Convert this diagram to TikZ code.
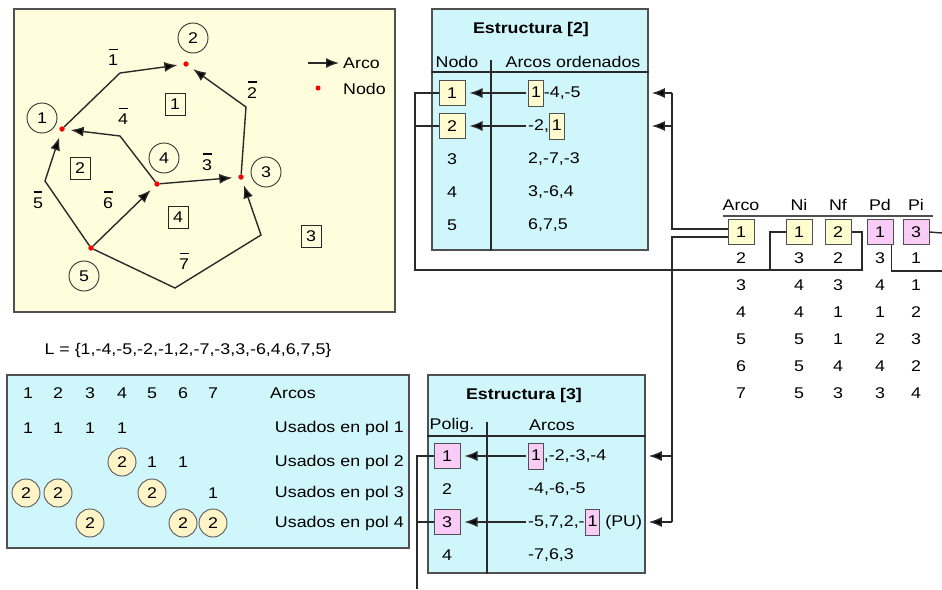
\documentclass[tikz,border=0pt]{standalone}
\usepackage{fontspec}
\setmainfont{Liberation Sans}[FakeStretch=1.15]
\usetikzlibrary{arrows.meta, positioning, calc}

\definecolor{panelyellow}{HTML}{FFFDDC}
\definecolor{panelcyan}{HTML}{CFF6FA}
\definecolor{cellyellow}{HTML}{FFFDCF}
\definecolor{cellpink}{HTML}{F8CCF6}
\definecolor{circfill}{HTML}{FFF3C8}
\definecolor{framegray}{HTML}{505050}
\definecolor{linegray}{HTML}{2A2A2A}

\newcommand{\txtsize}{\fontsize{15.5}{18}\selectfont}
\newcommand{\arcbar}[1]{\shortstack{\rule{9pt}{1.2pt}\\[2pt]#1}}
\newcommand{\yellowcell}[1]{{\fboxsep=2pt\fboxrule=0.9pt\fcolorbox{framegray}{cellyellow}{\rule[-6pt]{0pt}{21pt}#1}}}
\newcommand{\pinkcell}[1]{{\fboxsep=2pt\fboxrule=0.9pt\fcolorbox{framegray}{cellpink}{\rule[-6pt]{0pt}{21pt}#1}}}

\tikzset{
  panel/.style={draw=framegray, line width=1.6pt, inner sep=0pt},
  ycell/.style={draw=framegray, fill=cellyellow, line width=1pt, minimum width=26pt, minimum height=25pt, inner sep=0pt},
  pcell/.style={ycell, fill=cellpink},
  vertex/.style={circle, fill=red, inner sep=0pt, minimum size=5pt},
  nlabel/.style={circle, draw=black!80, line width=0.9pt, minimum size=30pt, inner sep=0pt},
  plabel/.style={draw=black!85, line width=0.9pt, minimum width=20pt, minimum height=22pt, inner sep=0pt},
  usedc/.style={circle, draw=black!65, fill=circfill, line width=0.9pt, minimum size=28pt, inner sep=0pt},
  title/.style={font=\txtsize\bfseries},
  arc/.style={draw=linegray, line width=1.4pt, -{Latex[length=13pt,width=10pt,fill=black]}},
  link/.style={draw=linegray, line width=1.4pt},
}

\begin{document}
\begin{tikzpicture}[x=1pt, y=-1pt, font=\txtsize, inner sep=2pt]
\useasboundingbox (0,0) rectangle (942,589);

% --- graph with nodes, arcs and polygons
\node[panel, fill=panelyellow, minimum width=381pt, minimum height=303pt] (graf) at (204.5,160.5) {};

\foreach \n/\x/\y in {1/62/129, 2/186/64, 3/241/177, 4/157/184, 5/91/248}
  \node[vertex] (v\n) at (\x,\y) {};
\coordinate (k1) at (120,73);
\coordinate (k2) at (246,107);
\coordinate (k4) at (120,136);
\coordinate (k5) at (45,181);
\coordinate (k7a) at (175,288);
\coordinate (k7b) at (261,235);

\begin{scope}[shorten >=6pt]
  \draw[arc] (v1) -- (k1) -- (v2);
  \draw[arc] (v3) -- (k2) -- (v2);
  \draw[arc] (v4) -- (v3);
  \draw[arc] (v4) -- (k4) -- (v1);
  \draw[arc] (v5) -- (k5) -- (v1);
  \draw[arc] (v5) -- (v4);
  \draw[arc] (v5) -- (k7a) -- (k7b) -- (v3);
\end{scope}
\foreach \n in {1,...,5}
  \node[vertex] at (v\n) {};

% arc names
\foreach \n/\x/\y in {1/113/57, 2/252/90, 3/207/162, 4/123/116, 5/38/200, 6/108/200, 7/184/261}
  \node (e\n) at (\x,\y) {\arcbar{\n}};

% node numbers
\foreach \n/\x/\y in {1/42/118, 2/193/38, 3/266/172, 4/164/158, 5/84/276}
  \node[nlabel] (c\n) at (\x,\y) {\n};

% polygon numbers
\foreach \n/\x/\y in {1/175/104, 2/80/168, 3/311/236, 4/178/217}
  \node[plabel] (q\n) at (\x,\y) {\n};

% legend
\coordinate (lg) at (308,63);
\node[anchor=west] (lgarc) at (341,63) {Arco};
\draw[arc, shorten >=2pt] (lg) -- (lgarc.west);
\node[vertex] (lgdot) at (318,88) {};
\node[anchor=west] (lgnodo) at (341,89) {Nodo};

% --- Estructura [2]
\node[panel, fill=panelcyan, minimum width=216pt, minimum height=241pt] (s2) at (540,129.5) {};
\node[title] (t2) at (531,29) {Estructura [2]};
\node (h2a) at (457,62) {Nodo};
\node (h2b) at (573,62) {Arcos ordenados};
\draw[link] (s2.west |- 0,72) -- (s2.east |- 0,72);
\draw[link] (491,60) -- (s2.south -| 491,0);

\node[ycell] (s2n1) at (452,93) {1};
\node[ycell] (s2n2) at (452,126) {2};
\foreach \n/\y in {3/159, 4/192, 5/225}
  \node (s2n\n) at (452,\y) {\n};

\node[anchor=west] (s2r1) at (526,93) {\yellowcell{1}-4,-5};
\node[anchor=west] (s2r2) at (526,126) {-2,\yellowcell{1}};
\foreach \n/\y/\entries in {3/159/{2,-7,-3}, 4/192/{3,-6,4}, 5/225/{6,7,5}}
  \node[anchor=west] (s2r\n) at (526,\y) {\entries};

\draw[arc, shorten >=4pt] (s2r1.west) -- (s2n1.east);
\draw[arc, shorten >=4pt] (s2r2.west) -- (s2n2.east);

% --- Estructura [3]
\node[panel, fill=panelcyan, minimum width=217pt, minimum height=198pt] (s3) at (536.5,474) {};
\node[title] (t3) at (524,395) {Estructura [3]};
\node (h3a) at (452,425) {Polig.};
\node (h3b) at (552,425) {Arcos};
\draw[link] (s3.west |- 0,436) -- (s3.east |- 0,436);
\draw[link] (487,422) -- (s3.south -| 487,0);

\node[pcell] (s3p1) at (447,456) {1};
\node (s3p2) at (447,489) {2};
\node[pcell] (s3p3) at (447,522) {3};
\node (s3p4) at (447,555) {4};

\node[anchor=west] (s3r1) at (526,456) {\pinkcell{1},-2,-3,-4};
\node[anchor=west] (s3r2) at (526,489) {-4,-6,-5};
\node[anchor=west] (s3r3) at (526,522) {-5,7,2,-\pinkcell{1} (PU)};
\node[anchor=west] (s3r4) at (526,555) {-7,6,3};

\draw[arc, shorten >=4pt] (s3r1.west) -- (s3p1.east);
\draw[arc, shorten >=4pt] (s3r3.west) -- (s3p3.east);

% --- arc table
\node (hArco) at (741,205) {Arco};
\node (hNi) at (799,205) {Ni};
\node (hNf) at (838,205) {Nf};
\node (hPd) at (880,205) {Pd};
\node (hPi) at (916,205) {Pi};
\draw[draw=framegray, line width=1.8pt] (723,216) -- (933,216);

\node[ycell] (a1) at (741,232) {1};
\node[ycell] (ni1) at (799,232) {1};
\node[ycell] (nf1) at (838,232) {2};
\node[pcell] (pd1) at (880,232) {1};
\node[pcell] (pi1) at (916,232) {3};
\foreach \y/\a/\b/\c/\d/\e in {258/2/3/2/3/1, 285/3/4/3/4/1, 312/4/4/1/1/2,
                               339/5/5/1/2/3, 366/6/5/4/4/2, 393/7/5/3/3/4} {
  \node (a\a) at (741,\y) {\a};
  \node (ni\a) at (799,\y) {\b};
  \node (nf\a) at (838,\y) {\c};
  \node (pd\a) at (880,\y) {\d};
  \node (pi\a) at (916,\y) {\e};
}

% arc 1 -> nodes and polygons that hold it
\coordinate (ar-up) at (672,93);
\coordinate (ar-dn) at (672,522);
\draw[link] ([yshift=3pt]a1.west) -| (ar-up);
\draw[arc, shorten >=3pt] (ar-up) -- (s2.east |- ar-up);
\draw[arc, shorten >=3pt] (ar-up |- s2n2) -- (s2.east |- s2n2);
\draw[link] ([yshift=-5pt]a1.west) -| (ar-dn);
\draw[arc, shorten >=3pt] (ar-dn) -- (s3.east |- ar-dn);
\draw[arc, shorten >=3pt] (ar-dn |- s3p1) -- (s3.east |- s3p1);

% Ni / Nf -> Estructura [2]
\coordinate (ni-turn) at (770,270);
\coordinate (nf-turn) at (862,270);
\coordinate (nd-turn) at (415,270);
\draw[link] (ni1.west) -| (ni-turn) -- (nd-turn) |- (s2n1.west);
\draw[link] (nf1.east) -| (nf-turn) -- (ni-turn);
\draw[link] (nd-turn |- s2n2) -- (s2n2.west);

% Pd / Pi -> Estructura [3]
\coordinate (pd-out) at (942,271);
\coordinate (pi-out) at (942,233);
\coordinate (pol-out) at (417,589);
\draw[link] ([xshift=-2pt]pd1.south east) |- (pd-out);
\draw[link] (pi1.east) -- (pi-out);
\draw[link] (s3p1.west) -| (pol-out);
\draw[link] (s3p3.west) -- (pol-out |- s3p3);

% --- arcs used per polygon
\node (lset) at (188,350) {L = \{1,-4,-5,-2,-1,2,-7,-3,3,-6,4,6,7,5\}};
\node[panel, fill=panelcyan, minimum width=402pt, minimum height=173pt] (used) at (208,461.5) {};
\foreach \c/\x in {1/28, 2/58, 3/90, 4/122, 5/152, 6/183, 7/213}
  \node (col\c) at (\x,393) {\c};
\node[anchor=west] (rowa) at (268,393) {Arcos};
\foreach \r/\y in {1/428, 2/462, 3/493, 4/523}
  \node[anchor=east] (usd\r) at (406,\y) {Usados en pol \r};
\foreach \x/\y [count=\i] in {28/428, 58/428, 90/428, 122/428, 152/462, 183/462, 213/493}
  \node (one\i) at (\x,\y) {1};
\foreach \x/\y [count=\i] in {122/462, 26/493, 58/493, 152/493, 90/523, 183/523, 213/523}
  \node[usedc] (two\i) at (\x,\y) {2};

\end{tikzpicture}
\end{document}
